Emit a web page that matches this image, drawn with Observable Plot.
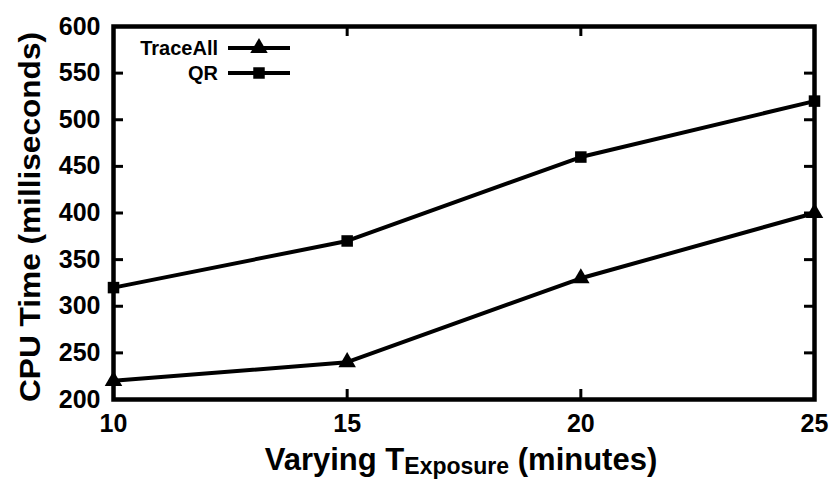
<!DOCTYPE html>
<html>
<head>
<meta charset="utf-8">
<script src="https://cdn.jsdelivr.net/npm/d3@7"></script>
<script src="https://cdn.jsdelivr.net/npm/@observablehq/plot@0.6"></script>
<style>
  html, body { margin: 0; padding: 0; background: #fff; }
  svg { display: block; }
</style>
</head>
<body>
<div id="chart"></div>
<script>
const exposure = [10, 15, 20, 25];
const traceAll = [220, 240, 330, 400];
const qr = [320, 370, 460, 520];
const yTicks = [200, 250, 300, 350, 400, 450, 500, 550, 600];
const xTicks = [10, 15, 20, 25];
const seriesNames = ["TraceAll", "QR"];
const seriesSymbols = ["triangle", "square"];

const rows = [];
exposure.forEach((x, i) => {
  rows.push({series: seriesNames[0], x, y: traceAll[i]});
  rows.push({series: seriesNames[1], x, y: qr[i]});
});

const W = 834, H = 481;
const mL = 113, mR = 20, mT = 26, mB = 82;
const pw = W - mL - mR, ph = H - mT - mB;
const tickLen = 10;
const font = "'Liberation Sans', Arial, sans-serif";

const chart = Plot.plot({
  width: W,
  height: H,
  marginLeft: mL,
  marginRight: mR,
  marginTop: mT,
  marginBottom: mB,
  style: {fontFamily: font, fontWeight: "bold", fontSize: "24px", color: "#000", background: "#fff"},
  x: {domain: [10, 25]},
  y: {domain: [200, 600]},
  symbol: {domain: seriesNames, range: seriesSymbols},
  marks: [
    Plot.axisY(yTicks, {tickSize: 0, tickPadding: 13, label: null, fontSize: 25, fontWeight: "bold"}),
    Plot.axisX(xTicks, {tickSize: 0, tickPadding: 15, label: null, fontSize: 25, fontWeight: "bold"}),
    Plot.tickY(yTicks, {y: d => d, stroke: "#000", strokeWidth: 3, insetRight: pw - tickLen}),
    Plot.tickY(yTicks, {y: d => d, stroke: "#000", strokeWidth: 3, insetLeft: pw - tickLen}),
    Plot.tickX(xTicks, {x: d => d, stroke: "#000", strokeWidth: 3, insetTop: ph - tickLen}),
    Plot.tickX(xTicks, {x: d => d, stroke: "#000", strokeWidth: 3, insetBottom: ph - tickLen}),
    Plot.line(rows, {x: "x", y: "y", z: "series", stroke: "#000", strokeWidth: 4}),
    Plot.dot(rows, {x: "x", y: "y", symbol: "series", fill: "#000", stroke: "none", r: 6.5}),
    Plot.frame({stroke: "#000", strokeWidth: 4.5})
  ]
});

const svg = d3.select(chart);

// Legend
const legendY = [48, 73];
seriesNames.forEach((name, i) => {
  const g = svg.append("g").attr("transform", `translate(0,${legendY[i]})`);
  g.append("text").attr("x", 218).attr("y", 0).attr("dy", "0.35em")
    .attr("text-anchor", "end").attr("font-family", font).attr("font-weight", "bold")
    .attr("font-size", 20).attr("fill", "#000").text(name);
  g.append("line").attr("x1", 228).attr("x2", 290).attr("y1", 0).attr("y2", 0)
    .attr("stroke", "#000").attr("stroke-width", 4);
  const sym = i === 0 ? d3.symbolTriangle : d3.symbolSquare;
  g.append("path").attr("transform", "translate(259,0)")
    .attr("d", d3.symbol(sym, Math.PI * 42)()).attr("fill", "#000");
});

// Y axis label
svg.append("text")
  .attr("transform", "translate(29,217) rotate(-90)")
  .attr("text-anchor", "middle").attr("dy", "0.35em")
  .attr("font-family", font).attr("font-weight", "bold").attr("font-size", 30)
  .attr("fill", "#000")
  .attr("textLength", 370).attr("lengthAdjust", "spacingAndGlyphs")
  .text("CPU Time (milliseconds)");

// X axis label with subscript
const xl = svg.append("text")
  .attr("x", 461).attr("y", 470)
  .attr("text-anchor", "middle")
  .attr("font-family", font).attr("font-weight", "bold").attr("font-size", 31)
  .attr("fill", "#000");
xl.append("tspan").text("Varying T");
xl.append("tspan").attr("font-size", 23).attr("dy", 4).text("Exposure");
xl.append("tspan").attr("dy", -4).text(" (minutes)");

document.getElementById("chart").appendChild(chart);
</script>
</body>
</html>
